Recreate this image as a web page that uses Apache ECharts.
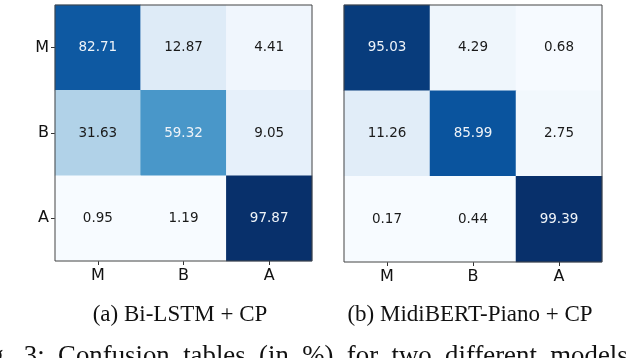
<!DOCTYPE html>
<html>
<head>
<meta charset="utf-8">
<script src="https://cdn.jsdelivr.net/npm/echarts@6/dist/echarts.min.js"></script>
<style>
html,body{margin:0;padding:0;background:#fff;}
#c{width:626px;height:358px;}
</style>
</head>
<body>
<div id="c"></div>
<script>
const categories = ['M', 'B', 'A'];
// rows = true class (M, B, A), columns = predicted (M, B, A)
const bilstmValues = [
  [82.71, 12.87, 4.41],
  [31.63, 59.32, 9.05],
  [0.95, 1.19, 97.87]
];
const midibertValues = [
  [95.03, 4.29, 0.68],
  [11.26, 85.99, 2.75],
  [0.17, 0.44, 99.39]
];
const captionA = '(a) Bi-LSTM + CP';
const captionB = '(b) MidiBERT-Piano + CP';
const figCaptionWords = ['Fig.', '3:', 'Confusion', 'tables', '(in', '%)', 'for', 'two', 'different', 'models.'];

const blues = ['#f7fbff','#deebf7','#c6dbef','#9ecae1','#6baed6','#4292c6','#2171b5','#08519c','#08306b'];

function toData(m) {
  const out = [];
  const flat = m.flat();
  const mx = Math.max(...flat), mn = Math.min(...flat);
  const thr = (mx + mn) / 2;
  m.forEach((row, r) => row.forEach((v, c) => {
    out.push({
      value: [c, r, v],
      label: { color: v > thr ? '#eef3f8' : '#1a1a1a' }
    });
  }));
  return out;
}
function mm(m){ const f=m.flat(); return [Math.min(...f), Math.max(...f)]; }

const chart = echarts.init(document.getElementById('c'), null, {renderer:'canvas'});
const grids = [
  {left:55, top:5, width:257, height:256},
  {left:344, top:5, width:258, height:257}
];
function xAx(i){ return {
  type:'category', data:categories, gridIndex:i, position:'bottom',
  axisLine:{show:false}, axisTick:{show:true, alignWithLabel:true, length:4, lineStyle:{color:'#333'}},
  axisLabel:{fontFamily:'DejaVu Sans', fontSize:16, color:'#111', margin:7},
  splitLine:{show:false}
};}
function yAx(i){ return {
  type:'category', data:categories, gridIndex:i, inverse:true,
  axisLine:{show:false}, axisTick:{show: i===0, alignWithLabel:true, length:4, lineStyle:{color:'#333'}},
  axisLabel:{fontFamily:'DejaVu Sans', fontSize:16, color:'#111', margin:6, show: i===0},
  splitLine:{show:false}
};}
const [aMin,aMax] = mm(bilstmValues);
const [bMin,bMax] = mm(midibertValues);
const labelCommon = {show:true, fontFamily:'DejaVu Sans', fontSize:13.5, formatter:p=>p.value[2].toFixed(2)};

chart.setOption({
  animation:false,
  backgroundColor:'#fff',
  grid: grids.map(g=>Object.assign({show:true, borderColor:'#444', borderWidth:1, backgroundColor:'transparent', z:10}, g)),
  xAxis:[xAx(0), xAx(1)],
  yAxis:[yAx(0), yAx(1)],
  visualMap:[
    {show:false, type:'continuous', min:aMin, max:aMax, seriesIndex:0, dimension:2, inRange:{color:blues}},
    {show:false, type:'continuous', min:bMin, max:bMax, seriesIndex:1, dimension:2, inRange:{color:blues}}
  ],
  series:[
    {type:'heatmap', xAxisIndex:0, yAxisIndex:0, data:toData(bilstmValues), label:labelCommon, itemStyle:{borderWidth:0}, emphasis:{disabled:true}},
    {type:'heatmap', xAxisIndex:1, yAxisIndex:1, data:toData(midibertValues), label:labelCommon, itemStyle:{borderWidth:0}, emphasis:{disabled:true}}
  ],
  graphic:[
    {type:'text', x:180, y:303, style:{text:captionA, font:'23px "Liberation Serif"', fill:'#111', textAlign:'center'}},
    {type:'text', x:470, y:303, style:{text:captionB, font:'23px "Liberation Serif"', fill:'#111', textAlign:'center'}},
    {type:'text', x:-32, y:343, style:{text:figCaptionWords.join('  '), font:'26.8px "Liberation Serif"', fill:'#111'}}
  ]
});
</script>
</body>
</html>
